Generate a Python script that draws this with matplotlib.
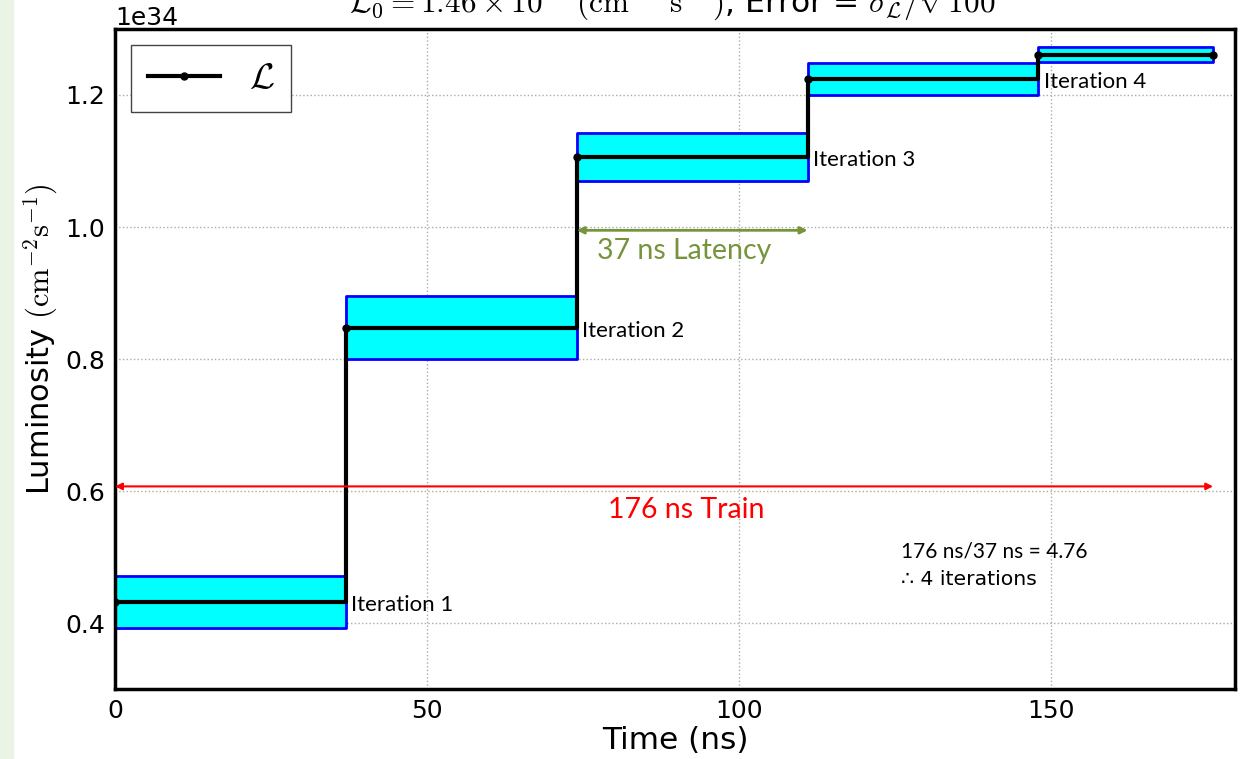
import matplotlib
matplotlib.use("Agg")
import matplotlib.pyplot as plt
from matplotlib.patches import Rectangle
from matplotlib.lines import Line2D

# step luminosity data (units of 1e34 cm^-2 s^-1)
times = [0, 37, 74, 111, 148, 176]
lum = [0.432, 0.847, 1.106, 1.224, 1.261]
lum_lo = [0.393, 0.800, 1.070, 1.200, 1.250]
lum_hi = [0.471, 0.895, 1.143, 1.249, 1.273]
iter_labels = ["Iteration 1", "Iteration 2", "Iteration 3", "Iteration 4"]

plt.rcParams['mathtext.fontset'] = 'cm'
calibri = 'Lato'

fig = plt.figure(figsize=(12.41, 7.59), dpi=100)
fig.patches.append(Rectangle((0, 0), 13 / 1241, 1, transform=fig.transFigure,
                             color='#eaf3e4', zorder=0))
ax = fig.add_axes([0.0927, 0.0922, 0.9025, 0.8696])

scale = 1e34
for i in range(len(lum)):
    ax.fill_between([times[i], times[i + 1]], lum_lo[i] * scale, lum_hi[i] * scale,
                    facecolor='#00ffff', edgecolor='#0000ff', linewidth=2, zorder=2)

ys = [v * scale for v in lum] + [lum[-1] * scale]
ax.plot(times, ys, drawstyle='steps-post', color='k', linewidth=3, zorder=3)
ax.plot(times, ys, 'o', color='k', markersize=5, zorder=4)

ax.set_xlim(0, 176 * 1.02)
ax.set_ylim(0.3 * scale, 1.3 * scale)
ax.set_xticks([0, 50, 100, 150])
ax.set_yticks([v * scale for v in [0.4, 0.6, 0.8, 1.0, 1.2]])
ax.grid(True, linestyle=':', color='#aaaaaa', linewidth=1)
ax.tick_params(labelsize=18, direction='in', length=0, pad=7)
ax.yaxis.get_offset_text().set_fontsize(18)
for s in ax.spines.values():
    s.set_linewidth(2.5)

ax.set_xlabel('Time (ns)', fontsize=22.5, labelpad=2)
ax.set_ylabel(r'Luminosity $(\mathrm{cm}^{-2}\mathrm{s}^{-1})$', fontsize=22)
ax.yaxis.label.set_y(0.53)
ax.set_title(r'$\mathcal{L}_0 = 1.46\times10^{34}\ (\mathrm{cm}^{-2}\ \mathrm{s}^{-1})$, '
             r'Error = $\sigma_\mathcal{L}/\sqrt{100}$', fontsize=22.5, pad=12)

h = Line2D([], [], color='k', linewidth=3, marker='o', markersize=5)
leg = ax.legend([h], [r'$\mathcal{L}$'], loc='upper left', fontsize=26, numpoints=1,
                fancybox=False, edgecolor='#444444', handlelength=2.0,
                borderpad=0.45, handletextpad=0.8, borderaxespad=0.45, framealpha=1)
leg.get_frame().set_linewidth(1)

# iteration labels
for i, lab in enumerate(iter_labels):
    ax.text(times[i + 1] + 0.9, lum[i] * scale - 0.005 * scale, lab, fontsize=16,
            family=calibri, ha='left', va='center', zorder=5)

# train arrow
ax.annotate('', xy=(0, 0.607 * scale), xytext=(176, 0.607 * scale),
            arrowprops=dict(arrowstyle='<|-|>', color='red', lw=1.5,
                            mutation_scale=10, shrinkA=0, shrinkB=0))
ax.text(91.5, 0.5715 * scale, '176 ns Train', color='red', fontsize=20.5,
        family=calibri, ha='center', va='center')

# latency arrow
ax.annotate('', xy=(74, 0.995 * scale), xytext=(111, 0.995 * scale),
            arrowprops=dict(arrowstyle='<|-|>', color='#77933c', lw=2,
                            mutation_scale=10, shrinkA=0, shrinkB=0))
ax.text(91.3, 0.9636 * scale, '37 ns Latency', color='#77933c', fontsize=20.5,
        family=calibri, ha='center', va='center')

ax.text(126, 0.508 * scale, '176 ns/37 ns = 4.76', fontsize=15, family=calibri,
        ha='left', va='center')
ax.text(126, 0.4655 * scale, '\u2234 4 iterations', fontsize=14.7, ha='left', va='center')

fig.savefig('out.png', dpi=100)
